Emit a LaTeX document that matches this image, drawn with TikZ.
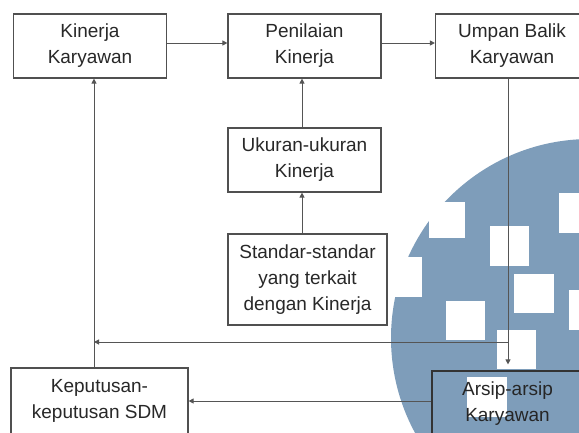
\documentclass[tikz,border=0pt]{standalone}
\usepackage{fontspec}
\setmainfont{Liberation Sans}
\usetikzlibrary{arrows.meta}
\definecolor{bgblue}{RGB}{126,157,186}
\definecolor{linegray}{RGB}{85,85,85}
\definecolor{boxgray}{RGB}{80,80,80}
\definecolor{txt}{RGB}{40,40,40}
\begin{document}
\begin{tikzpicture}[x=1pt,y=-1pt,
  box/.style={draw=boxgray, line width=1.2pt, fill=white, text=txt, align=center,
    font=\fontsize{19}{26}\selectfont, minimum width=153pt, minimum height=64pt, inner sep=0pt},
  arr/.style={draw=linegray, line width=1pt, -{Triangle[length=5pt,width=5pt]}},
  sq/.style={fill=white}]
\useasboundingbox (0,0) rectangle (579,432);
\clip (0,0) rectangle (579,432);
% background circle with white squares
\fill[bgblue] (590,338) circle[radius=199pt];
\fill[sq] (429,202) rectangle (465,238);
\fill[sq] (490,226) rectangle (529,266);
\fill[sq] (559,193) rectangle (598,233);
\fill[sq] (390,257) rectangle (422,297);
\fill[sq] (514,274) rectangle (554,313);
\fill[sq] (446,301) rectangle (485,340);
\fill[sq] (569,290) rectangle (608,330);
\fill[sq] (497,330) rectangle (536,369);
\fill[sq] (467,377) rectangle (507,417);
% boxes
\node[box] (kk) at (90,46) {Kinerja\\Karyawan};
\node[box] (pk) at (304.5,46) {Penilaian\\Kinerja};
\node[box] (ub) at (512,46) {Umpan Balik\\Karyawan};
\node[box] (uk) at (304.5,160) {Ukuran-ukuran\\Kinerja};
\node[box, minimum width=159pt, minimum height=91pt] (sk) at (307.5,279.5) {Standar-standar\\yang terkait\\dengan Kinerja};
\node[box, minimum width=177pt, minimum height=66pt] (kd) at (99.5,401) {Keputusan-\\keputusan SDM};
\node[box, fill=none, draw=black!80, text=black!85, minimum width=151pt, minimum height=66pt] (ar) at (507.5,404) {Arsip-arsip\\Karyawan};
% connectors
\coordinate (cx) at (302,0);
\coordinate (lx) at (94,0);
\coordinate (rx) at (508,0);
\coordinate (ly) at (0,401);
\coordinate (j1) at (508,342);
\coordinate (j2) at (94,342);
\draw[arr] ([yshift=3pt]kk.east) -- ([yshift=3pt]pk.west);
\draw[arr] ([yshift=3pt]pk.east) -- ([yshift=3pt]ub.west);
\draw[arr] (uk.north -| cx) -- (pk.south -| cx);
\draw[arr] (sk.north -| cx) -- (uk.south -| cx);
\draw[arr] (kd.north -| lx) -- (kk.south -| lx);
\draw[arr, shorten >=6pt] (ub.south -| rx) -- (ar.north -| rx);
\draw[arr] (j1) -- (j2);
\draw[arr] (ar.west |- ly) -- (kd.east |- ly);
\end{tikzpicture}
\end{document}
